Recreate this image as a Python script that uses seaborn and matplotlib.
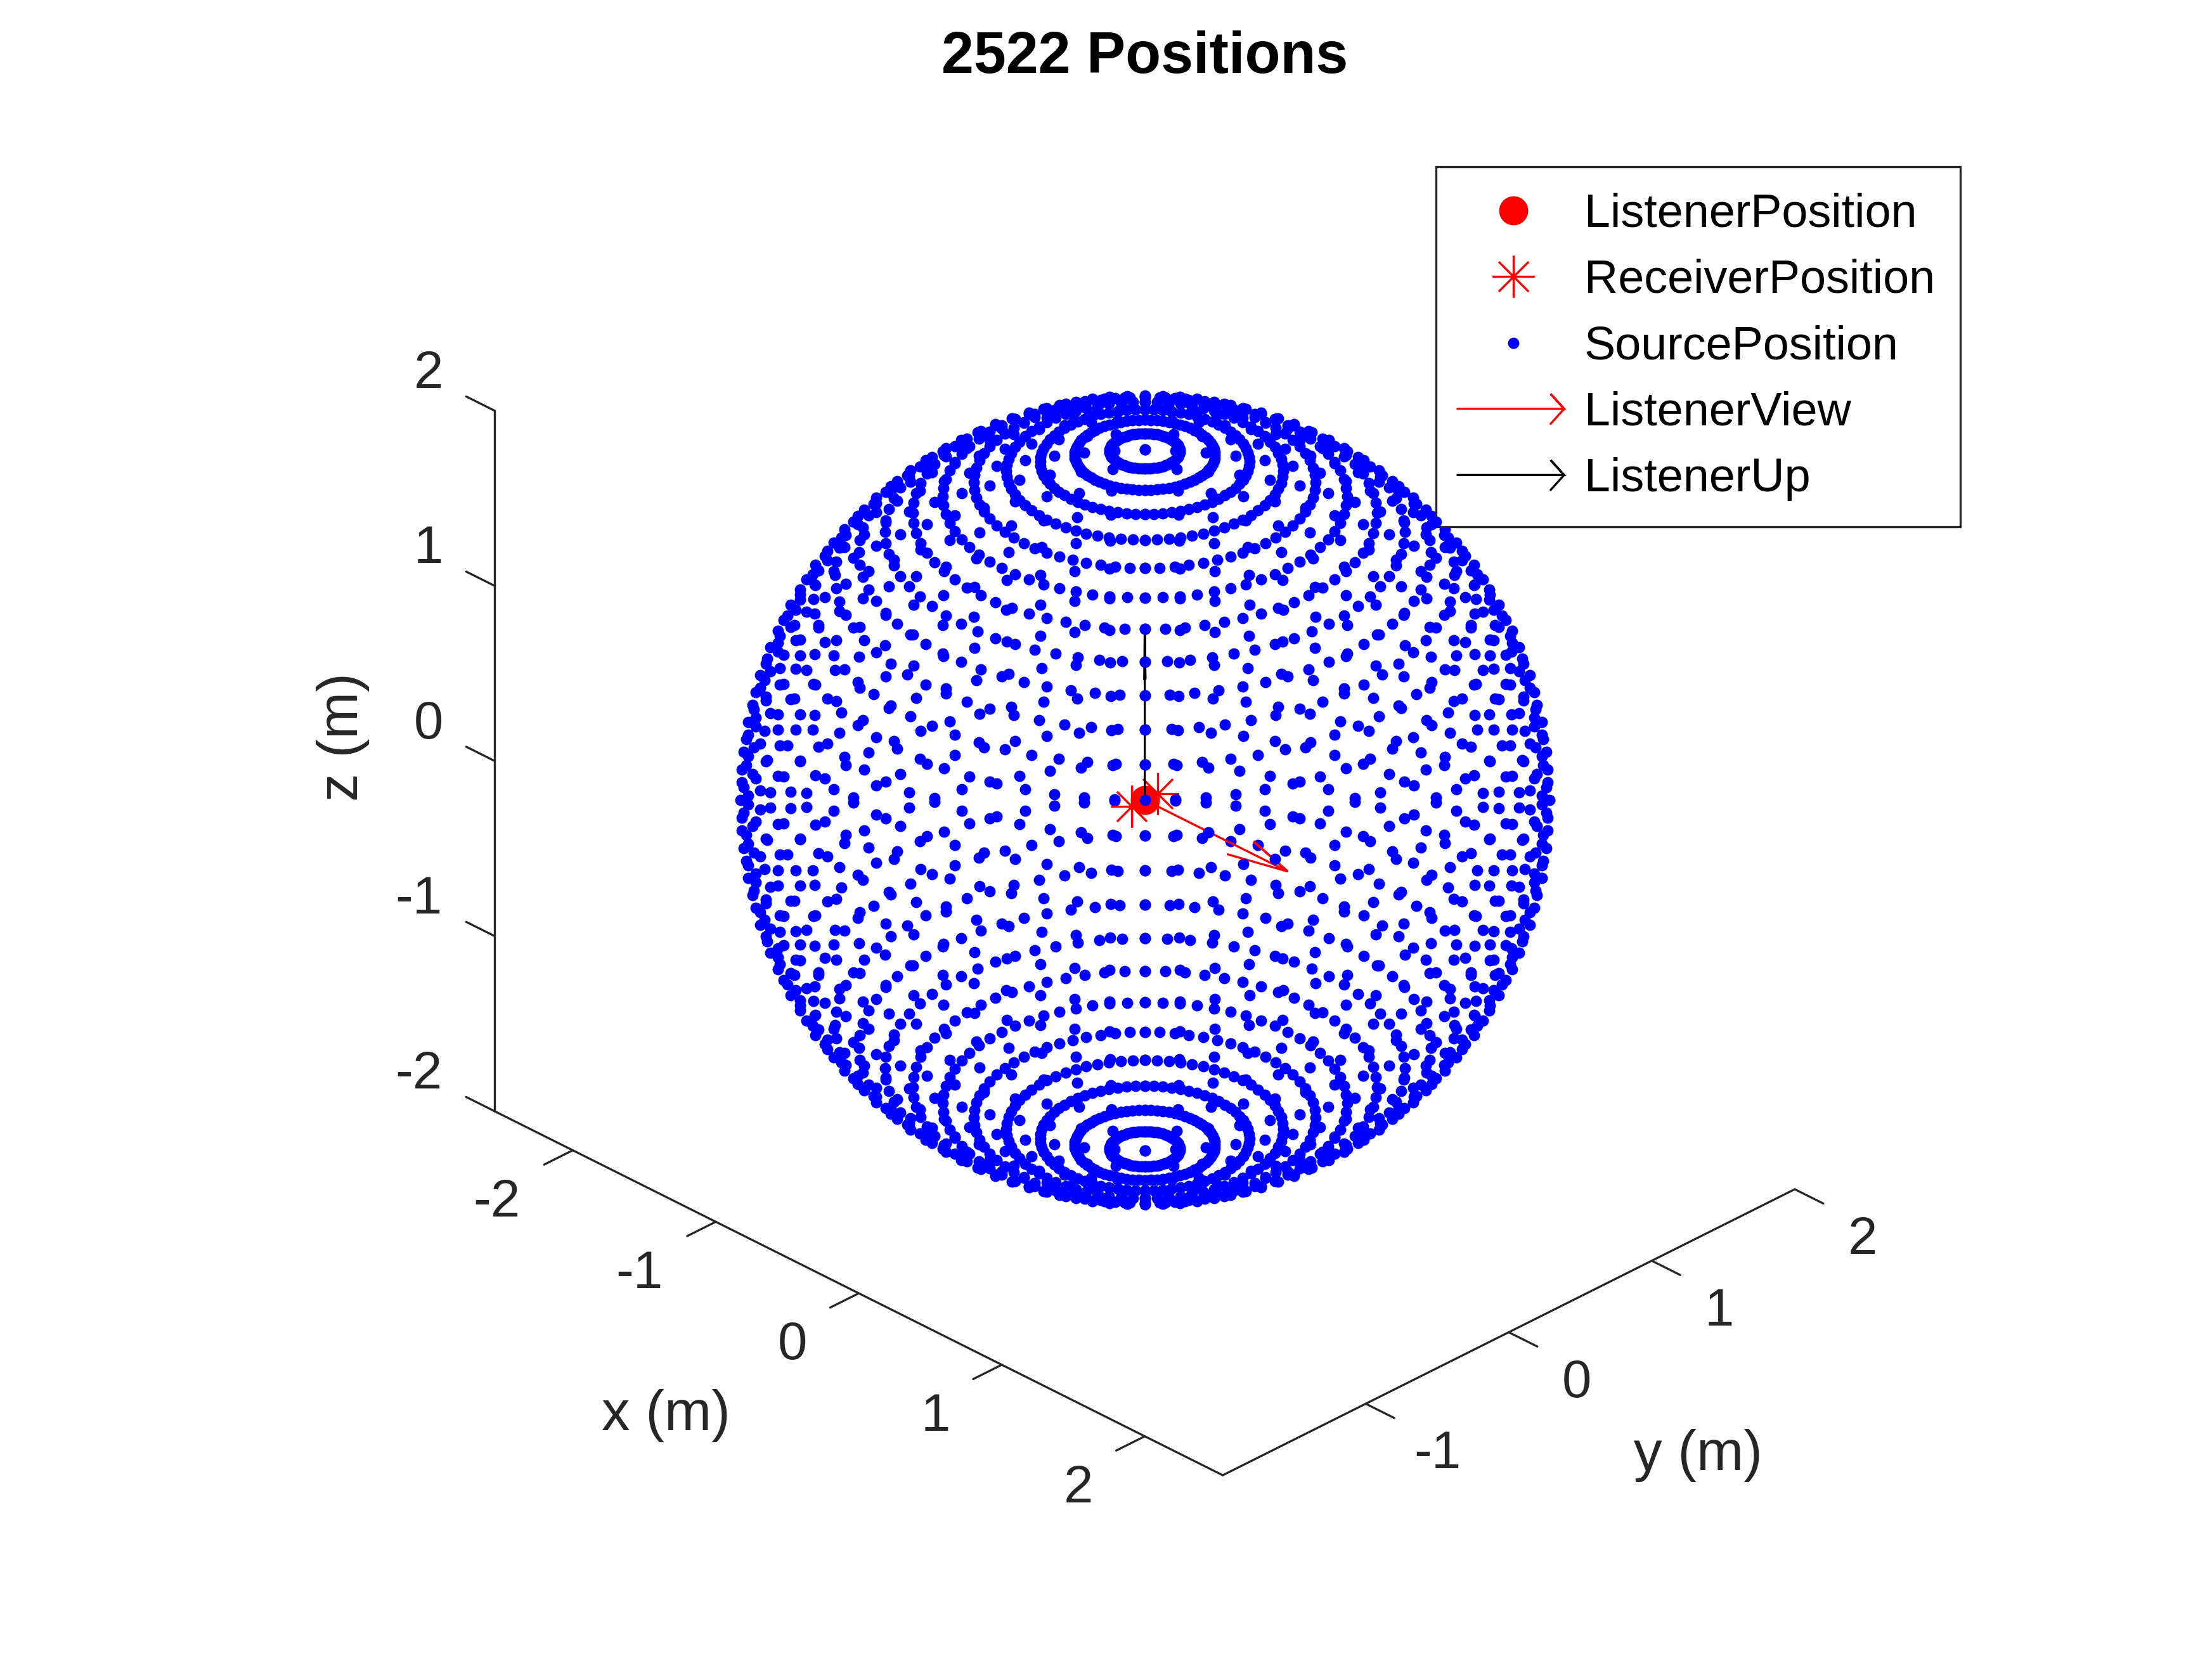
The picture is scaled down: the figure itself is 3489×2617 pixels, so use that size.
import numpy as np
import seaborn as sns
import matplotlib
matplotlib.use("Agg")
import matplotlib.pyplot as plt
from matplotlib.legend_handler import HandlerBase
from matplotlib.lines import Line2D
from matplotlib.path import Path
from matplotlib.text import Text
from matplotlib.transforms import Affine2D, IdentityTransform

AZIMUTHS_DEG = [0, 5, 10, 15, 20, 25, 30, 35, 40, 45, 50, 55, 60, 65, 70, 75, 80, 85,
                90, 95, 100, 105, 110, 115, 120, 125, 130, 135, 140, 145, 150, 155, 160, 165, 170, 175,
                180, 185, 190, 195, 200, 205, 210, 215, 220, 225, 230, 235, 240, 245, 250, 255, 260, 265,
                270, 275, 280, 285, 290, 295, 300, 305, 310, 315, 320, 325, 330, 335, 340, 345, 350, 355]
ELEVATIONS_DEG = [-85, -80, -75, -70, -65, -60, -55, -50, -45, -40, -35, -30, -25, -20, -15, -10, -5, 0,
                  5, 10, 15, 20, 25, 30, 35, 40, 45, 50, 55, 60, 65, 70, 75, 80, 85]
POLE_ELEVATIONS_DEG = [-90, 90]
SOURCE_RADIUS_M = 2.0

LISTENER_POSITION = [0.0, 0.0, 0.0]
RECEIVER_X = [0.0, 0.0]
RECEIVER_Y = [0.09, -0.09]
RECEIVER_Z = [0.0, 0.0]
VIEW_X = [0.0, 1.0, 0.67, 1.0, 0.67]
VIEW_Y = [0.0, 0.0, 0.09, 0.0, -0.09]
VIEW_Z = [0.0, 0.0, 0.0, 0.0, 0.0]
UP_X = [0.0, 0.0, 0.0, 0.0, 0.0]
UP_Y = [0.0, 0.0, 0.004, 0.0, -0.004]
UP_Z = [0.0, 1.0, 0.69, 1.0, 0.69]

TITLE = "2522 Positions"
XTICKS = [-2, -1, 0, 1, 2]
XTICK_LABELS = ["-2", "-1", "0", "1", "2"]
YTICKS = [-1, 0, 1, 2]
YTICK_LABELS = ["-1", "0", "1", "2"]
ZTICKS = [-2, -1, 0, 1, 2]
ZTICK_LABELS = ["-2", "-1", "0", "1", "2"]
LEGEND_LABELS = ["ListenerPosition", "ReceiverPosition", "SourcePosition", "ListenerView", "ListenerUp"]

# ---- style
sns.set_theme(style="white", rc={"axes.grid": False})
plt.rcParams["font.family"] = ["Liberation Sans", "DejaVu Sans"]
INK = "#262626"
RED, BLUE, BLACK = "#ff0000", "#0000ff", "#000000"
W, H, DPI = 3489, 2617, 300
LW = 0.8

fig = plt.figure(figsize=(W / DPI, H / DPI), dpi=DPI, facecolor="white")
S = 2617.0
PX_PER_M = 319.0
CX, CY = 1805.7, 1262.0
L = CX - 0.95 / 1.85 * S
B = (H - CY) - 0.95 / 1.85 * S
ax = fig.add_axes([L / W, B / H, S / W, S / H], projection="3d")
ax.computed_zorder = False
ax.patch.set_alpha(0)

XLIM = (-2.545, 2.545)
YLIM = (-2.0, 2.0)
ZLIM = (-2.0, 2.0)
ELEV, AZIM = 30, -45
ax.view_init(elev=ELEV, azim=AZIM)
ax.set_proj_type("ortho")

# sphere of sources; the half nearer the viewer is drawn over the arrows
az = np.radians(np.array(AZIMUTHS_DEG, dtype=float))
el = np.radians(np.array(ELEVATIONS_DEG, dtype=float))
pole = np.radians(np.array(POLE_ELEVATIONS_DEG, dtype=float))
A, E = np.meshgrid(az, el)
A = np.concatenate([A.ravel(), np.zeros_like(pole)])
E = np.concatenate([E.ravel(), pole])
sx = SOURCE_RADIUS_M * np.cos(E) * np.cos(A)
sy = SOURCE_RADIUS_M * np.cos(E) * np.sin(A)
sz = SOURCE_RADIUS_M * np.sin(E)
ve, va = np.radians(ELEV), np.radians(AZIM)
front = sx * np.cos(ve) * np.cos(va) + sy * np.cos(ve) * np.sin(va) + sz * np.sin(ve) > 0

r = 0.7071
asterisk = Path(
    [(-1, 0), (1, 0), (0, -1), (0, 1), (-r, -r), (r, r), (-r, r), (r, -r)],
    [Path.MOVETO, Path.LINETO] * 4,
)
DOT = dict(linestyle="none", marker="o", color=BLUE, markersize=4.3, markeredgewidth=0)
ax.plot(sx[~front], sy[~front], sz[~front], zorder=1, **DOT)
h_listener, = ax.plot([LISTENER_POSITION[0]], [LISTENER_POSITION[1]], [LISTENER_POSITION[2]],
                      linestyle="none", marker="o", color=RED, markersize=11, markeredgewidth=0,
                      zorder=2, label=LEGEND_LABELS[0])
h_receiver, = ax.plot(RECEIVER_X, RECEIVER_Y, RECEIVER_Z, linestyle="none", marker=asterisk,
                      color=RED, markersize=16, markeredgewidth=LW, markerfacecolor="none",
                      zorder=3, label=LEGEND_LABELS[1])
h_view, = ax.plot(VIEW_X, VIEW_Y, VIEW_Z, color=RED, lw=LW, solid_joinstyle="miter", zorder=4,
                  label=LEGEND_LABELS[3])
h_up, = ax.plot(UP_X, UP_Y, UP_Z, color=BLACK, lw=LW, zorder=5, label=LEGEND_LABELS[4])
h_source, = ax.plot(sx[front], sy[front], sz[front], zorder=6, label=LEGEND_LABELS[2], **DOT)

ax.set_xlim(*XLIM, view_margin=0)
ax.set_ylim(*YLIM, view_margin=0)
ax.set_zlim(*ZLIM, view_margin=0)
ranges = np.array([XLIM[1] - XLIM[0], YLIM[1] - YLIM[0], ZLIM[1] - ZLIM[0]])
k = PX_PER_M * 1.85 / S
zoom = k * np.linalg.norm(ranges) / (1.8294640721620434 * 25 / 24)
ax.set_box_aspect(ranges, zoom=zoom)

ax.set_xticks(XTICKS, labels=XTICK_LABELS)
ax.set_yticks(YTICKS, labels=YTICK_LABELS)
ax.set_zticks(ZTICKS, labels=ZTICK_LABELS)
ax.tick_params(axis="both", labelsize=20, colors=INK, pad=-8, length=0)
ax.tick_params(axis="z", labelsize=20, colors=INK, pad=-8, length=0)
ax.zaxis.set_ticks_position("lower")
ax.zaxis.set_label_position("lower")
ax.zaxis._get_tickdir = lambda position: 0  # z ticks run along x, as in the reference
ax.grid(False)

SCALE = 2.2265  # preview pixel -> output pixel
# offsets from the tick base on the axis, to the label centre (dx right, dy down, preview pixels)
OFFSETS = {
    ax.xaxis: lambda s: (-54 if s.startswith("-") else -47, 37),
    ax.yaxis: lambda s: (51 if s.startswith("-") else 48, 36),
    ax.zaxis: lambda s: (-54 if s.startswith("-") else -47, -26),
}
TICK_FACTOR = {ax.xaxis: -0.625, ax.yaxis: -0.491, ax.zaxis: 0.491}
LABEL_CENTRE = {ax.xaxis: (472, 1003), ax.yaxis: (1203, 1031), ax.zaxis: (243, 522)}


def pinned(dx, dy):
    return ax.transData + Affine2D().translate(dx * SCALE, -dy * SCALE)


def pin_label(label, px, py):
    """The 3D axis overwrites the label's place just before drawing it."""
    def draw(renderer):
        label._transform = IdentityTransform()
        label.set_position((px * SCALE, H - py * SCALE))
        Text.draw(label, renderer)
    label.draw = draw


for axis, text in ((ax.xaxis, "x (m)"), (ax.yaxis, "y (m)"), (ax.zaxis, "z (m)")):
    axis.pane.set_visible(False)
    axis.line.set_color(INK)
    axis.line.set_linewidth(LW)
    info = axis._axinfo["tick"]
    info["outward_factor"] = TICK_FACTOR[axis]
    info["inward_factor"] = 0.0
    info["linewidth"] = {True: LW, False: LW}
    axis.set_rotate_label(False)
    axis.set_label_text(text, fontsize=21.4, color=INK, rotation=90 if axis is ax.zaxis else 0)
    pin_label(axis.label, *LABEL_CENTRE[axis])
    labels = {ax.xaxis: XTICK_LABELS, ax.yaxis: YTICK_LABELS, ax.zaxis: ZTICK_LABELS}[axis]
    for tick, s in zip(axis.get_major_ticks(), labels):
        tick.label1.set_va("center")
        tick.label1.set_ha("center")
        Text.set_transform(tick.label1, pinned(*OFFSETS[axis](s)))
        tick.label1.set_transform = lambda t: None  # the 3D axis would reset it at draw time

ax.set_title(TITLE, fontsize=22, fontweight="bold", color=BLACK, pad=0, y=1.0)
ax.title.set_position(((CX - L) / S, ((H - 115) - B) / S))


class ArrowHandler(HandlerBase):
    def create_artists(self, legend, orig, xd, yd, width, height, fontsize, trans):
        y = height / 2 - yd
        x0, x1 = -xd - 0.09 * fontsize, width - xd - 0.03 * fontsize
        back, half = 0.13 * width, 0.32 * fontsize
        return [Line2D([x0, x1, x1 - back, x1, x1 - back], [y, y, y + half, y, y - half],
                       color=orig.get_color(), lw=orig.get_linewidth(), transform=trans,
                       solid_joinstyle="miter")]


handles = [h_listener, h_receiver, h_source, h_view, h_up]
leg = ax.legend(handles, LEGEND_LABELS, loc="upper left",
                bbox_to_anchor=(2265 / W, 1 - 263 / H), bbox_transform=fig.transFigure,
                fontsize=17.7, frameon=True, fancybox=False, framealpha=1, edgecolor=INK,
                facecolor="white", labelcolor=BLACK, numpoints=1, borderaxespad=0,
                borderpad=0.55, handlelength=2.22, handleheight=0.7, handletextpad=0.4,
                labelspacing=0.48, handler_map={h_view: ArrowHandler(), h_up: ArrowHandler()})
leg.get_frame().set_linewidth(LW)

fig.savefig("out.png", dpi=DPI, facecolor="white")
